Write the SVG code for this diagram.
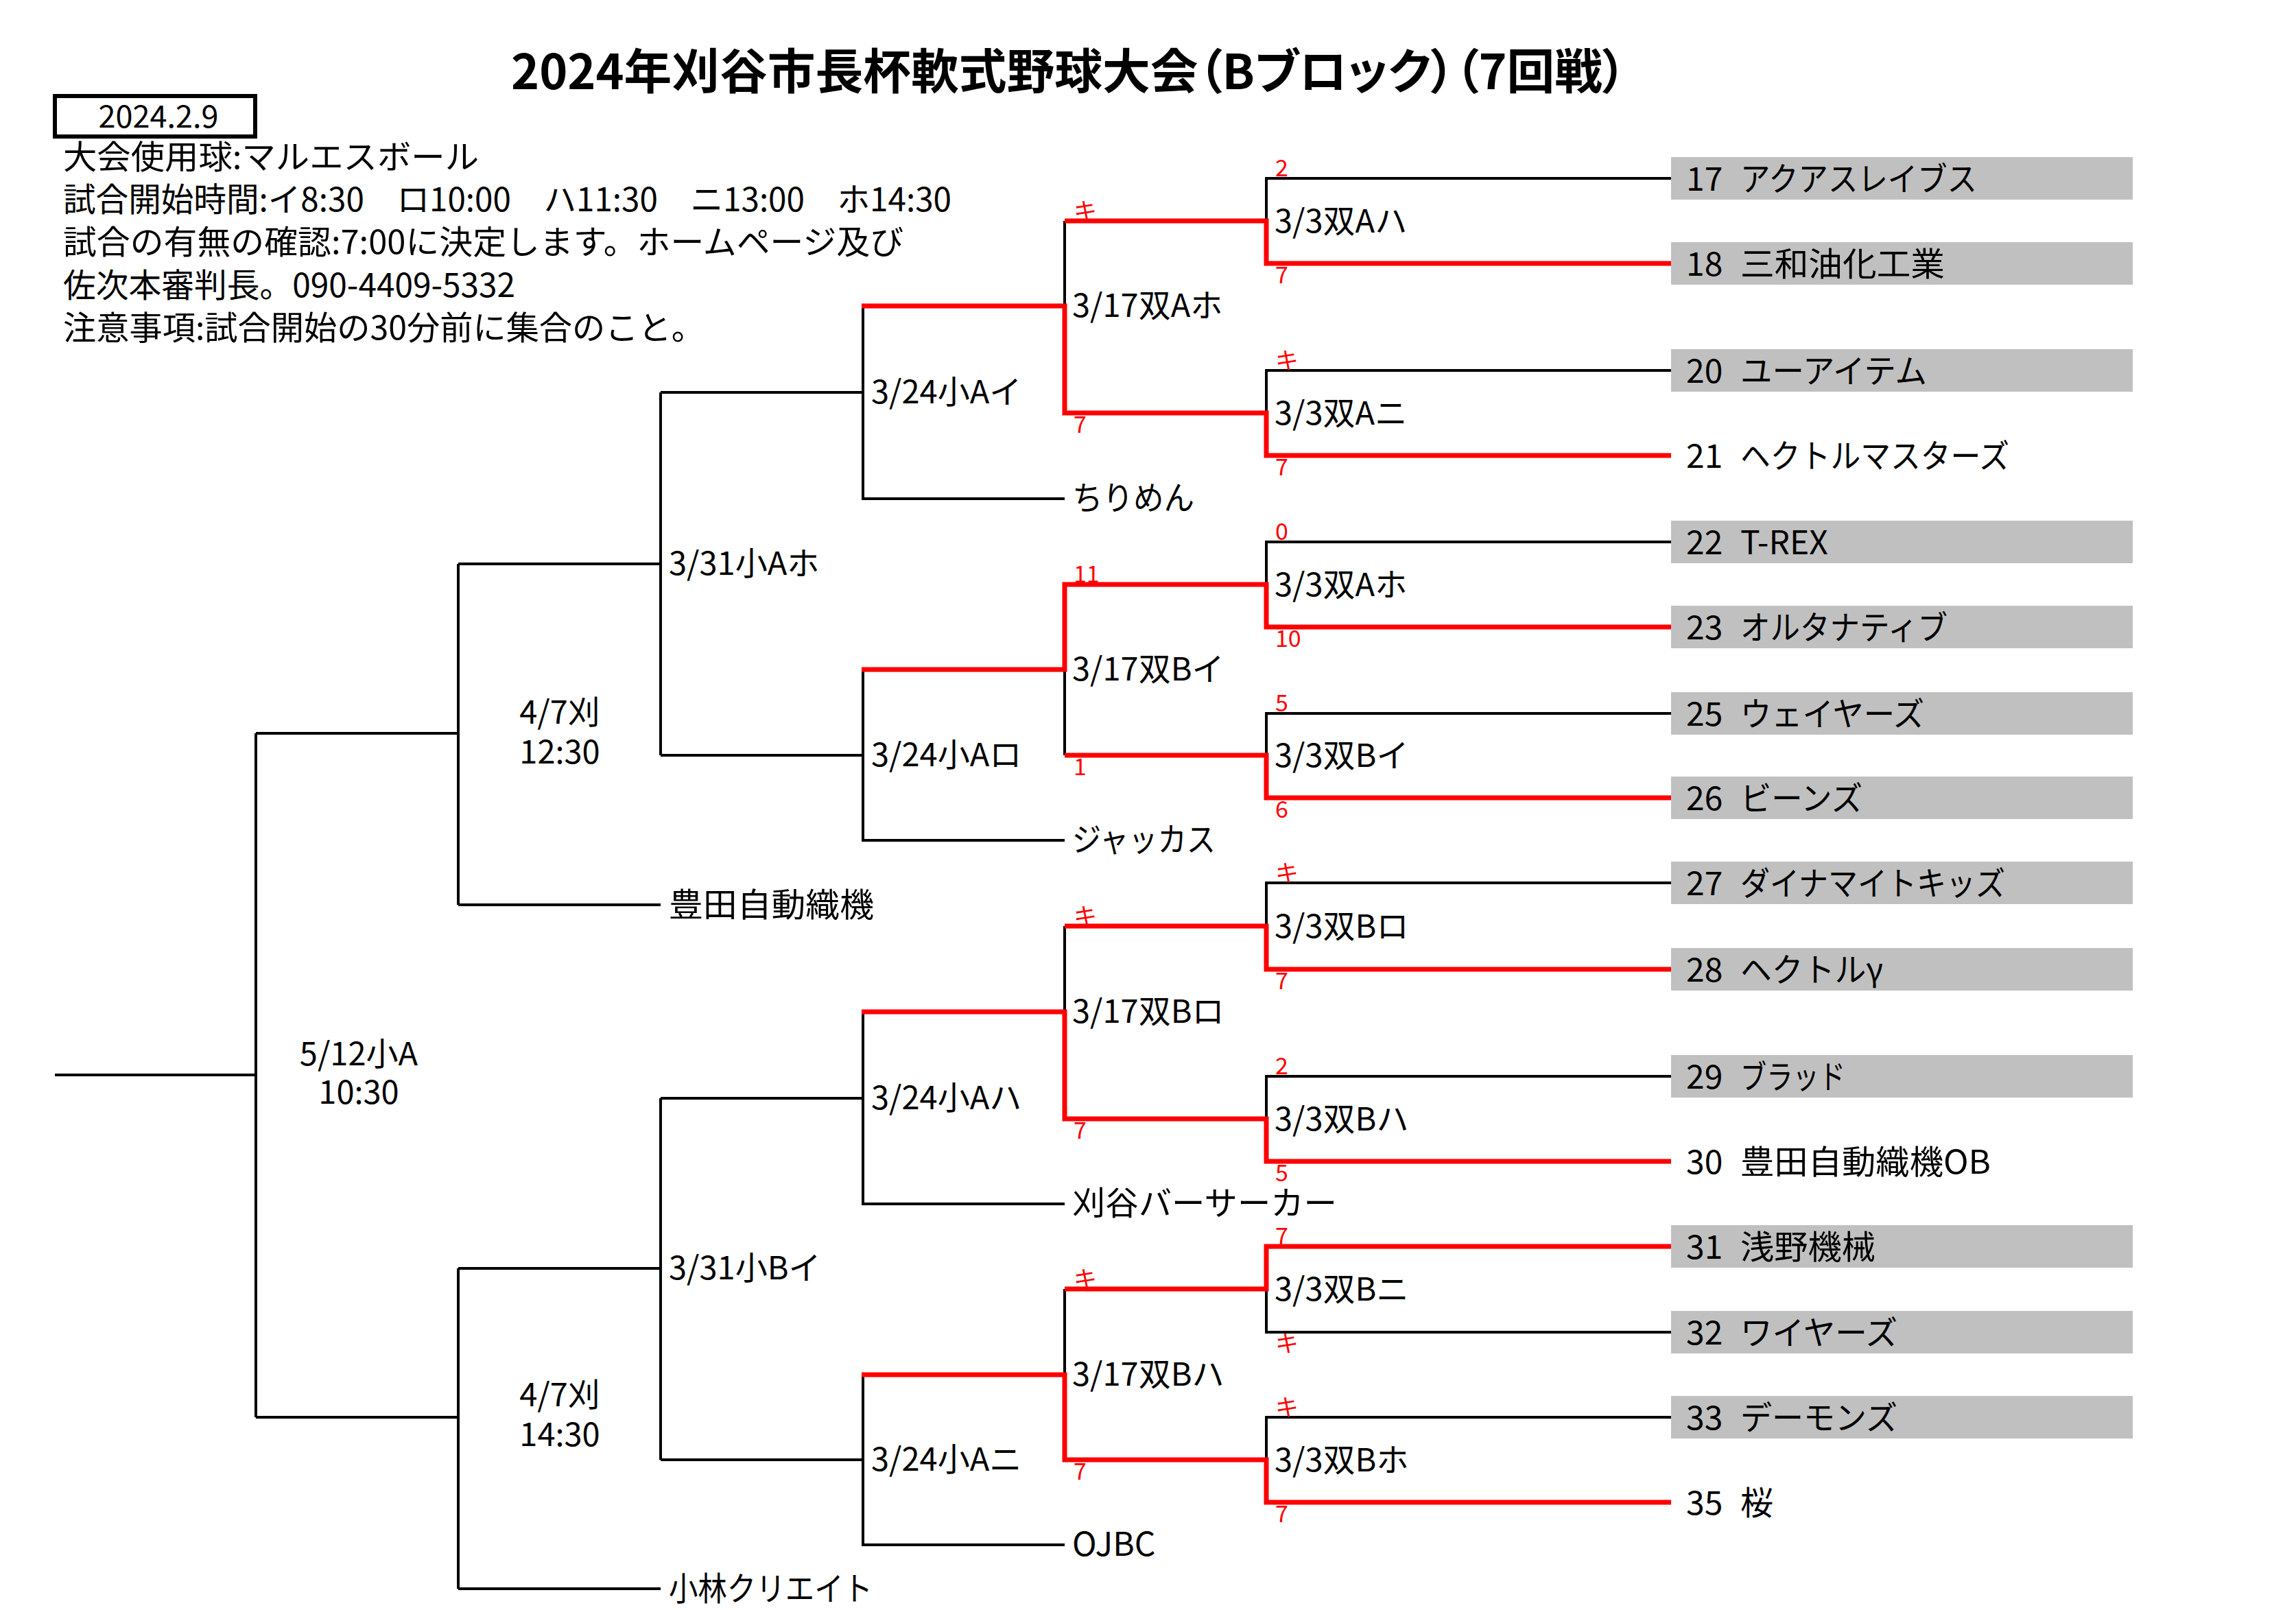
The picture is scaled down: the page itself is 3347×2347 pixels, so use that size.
<svg xmlns="http://www.w3.org/2000/svg" width="3347" height="2347" viewBox="0 0 3347 2347">
<style>
text{font-family:"Noto Sans CJK JP","Noto Sans",sans-serif;fill:#000}
.title{font-size:70px;font-weight:bold;font-feature-settings:"palt"}
.info{font-size:48px}
.lbl{font-size:47px}
.team{font-size:48px}
.sc{font-size:34px;fill:#f00}
.mid{text-anchor:middle}
.bk{fill:none;stroke:#000;stroke-width:4;stroke-linejoin:miter}
.rd{fill:none;stroke:#f00;stroke-width:7;stroke-linejoin:miter}
.box{fill:#c0c0c0}
</style>
<rect width="3347" height="2347" fill="#fff"/>

<g id="header">
<text class="title" x="745" y="130" textLength="1626" lengthAdjust="spacingAndGlyphs">2024年刈谷市長杯軟式野球大会（Bブロック）（7回戦）</text>
<rect x="80" y="140" width="292" height="59" fill="none" stroke="#000" stroke-width="6"/>
<text x="231" y="186" font-size="45" class="mid">2024.2.9</text>
<text class="info" x="92" y="246" textLength="606" lengthAdjust="spacingAndGlyphs">大会使用球:マルエスボール</text>
<text class="info" x="92" y="308" textLength="1295" lengthAdjust="spacingAndGlyphs">試合開始時間:イ8:30　ロ10:00　ハ11:30　ニ13:00　ホ14:30</text>
<text class="info" x="92" y="370" textLength="1225" lengthAdjust="spacingAndGlyphs">試合の有無の確認:7:00に決定します。ホームページ及び</text>
<text class="info" x="92" y="433" textLength="659" lengthAdjust="spacingAndGlyphs">佐次本審判長。090-4409-5332</text>
<text class="info" x="92" y="495" textLength="935" lengthAdjust="spacingAndGlyphs">注意事項:試合開始の30分前に集合のこと。</text>
</g>

<g id="connectors">
<path class="bk" d="M2436,260H1846V322 M2436,540H1846V602 M2436,790H1846V852 M2436,1040H1846V1101 M2436,1287H1846V1350 M2436,1569H1846V1631 M2436,1942H1846V1879 M2436,2066H1846V2128"/>
<path class="bk" d="M1552,322V446 M1552,976V1101 M1552,1350V1475 M1552,1879V2004"/>
<path class="bk" d="M1552,727H1258V446 M1552,1225H1258V976 M1552,1755H1258V1475 M1552,2252H1258V2004"/>
<path class="bk" d="M1258,572H963 M1258,1101H963 M963,572V1101 M1258,1601H963 M1258,2128H963 M963,1601V2128"/>
<path class="bk" d="M963,822H668 M963,1319H668 M668,822V1319 M963,1849H668 M963,2316H668 M668,1849V2316"/>
<path class="bk" d="M668,1069H373 M668,2066H373 M373,1069V2066 M373,1567H80"/>
<path class="rd" d="M2436,384H1846V322H1552"/>
<path class="rd" d="M2436,664H1846V602H1552V446H1256"/>
<path class="rd" d="M2436,914H1846V852H1552V976H1256"/>
<path class="rd" d="M2436,1163H1846V1101H1552"/>
<path class="rd" d="M2436,1413H1846V1350H1552"/>
<path class="rd" d="M2436,1693H1846V1631H1552V1475H1256"/>
<path class="rd" d="M2436,1817H1846V1879H1552"/>
<path class="rd" d="M2436,2190H1846V2128H1552V2004H1256"/>
</g>

<g id="scores">
<text class="sc" x="1859" y="257">2</text>
<text class="sc" x="1859" y="413">7</text>
<text class="sc" x="1859" y="538">キ</text>
<text class="sc" x="1859" y="693">7</text>
<text class="sc" x="1859" y="787">0</text>
<text class="sc" x="1859" y="943">10</text>
<text class="sc" x="1859" y="1037">5</text>
<text class="sc" x="1859" y="1192">6</text>
<text class="sc" x="1859" y="1285">キ</text>
<text class="sc" x="1859" y="1442">7</text>
<text class="sc" x="1859" y="1566">2</text>
<text class="sc" x="1859" y="1722">5</text>
<text class="sc" x="1859" y="1814">7</text>
<text class="sc" x="1859" y="1971">キ</text>
<text class="sc" x="1859" y="2064">キ</text>
<text class="sc" x="1859" y="2219">7</text>
<text class="sc" x="1565" y="320">キ</text>
<text class="sc" x="1565" y="631">7</text>
<text class="sc" x="1565" y="849">11</text>
<text class="sc" x="1565" y="1130">1</text>
<text class="sc" x="1565" y="1348">キ</text>
<text class="sc" x="1565" y="1660">7</text>
<text class="sc" x="1565" y="1877">キ</text>
<text class="sc" x="1565" y="2157">7</text>
</g>

<g id="match-r1">
<text class="lbl" x="1858" y="339">3/3双Aハ</text>
<text class="lbl" x="1858" y="619">3/3双Aニ</text>
<text class="lbl" x="1858" y="869">3/3双Aホ</text>
<text class="lbl" x="1858" y="1118">3/3双Bイ</text>
<text class="lbl" x="1858" y="1367">3/3双Bロ</text>
<text class="lbl" x="1858" y="1648">3/3双Bハ</text>
<text class="lbl" x="1858" y="1896">3/3双Bニ</text>
<text class="lbl" x="1858" y="2145">3/3双Bホ</text>
</g>
<g id="match-r2">
<text class="lbl" x="1563" y="462">3/17双Aホ</text>
<text class="lbl" x="1563" y="992">3/17双Bイ</text>
<text class="lbl" x="1563" y="1491">3/17双Bロ</text>
<text class="lbl" x="1563" y="2020">3/17双Bハ</text>
</g>
<g id="match-r3">
<text class="lbl" x="1270" y="588">3/24小Aイ</text>
<text class="lbl" x="1270" y="1117">3/24小Aロ</text>
<text class="lbl" x="1270" y="1617">3/24小Aハ</text>
<text class="lbl" x="1270" y="2144">3/24小Aニ</text>
</g>
<g id="match-r4">
<text class="lbl" x="975" y="838">3/31小Aホ</text>
<text class="lbl" x="975" y="1865">3/31小Bイ</text>
</g>
<g id="match-r5">
<text class="lbl mid" x="816" y="1055">4/7刈</text>
<text class="lbl mid" x="816" y="1113">12:30</text>
<text class="lbl mid" x="816" y="2050">4/7刈</text>
<text class="lbl mid" x="816" y="2108">14:30</text>
</g>
<g id="match-final">
<text class="lbl mid" x="523" y="1553">5/12小A</text>
<text class="lbl mid" x="523" y="1609">10:30</text>
</g>

<g id="seeds">
<text class="team" x="1563" y="743" textLength="178" lengthAdjust="spacingAndGlyphs">ちりめん</text>
<text class="team" x="1563" y="1241" textLength="209" lengthAdjust="spacingAndGlyphs">ジャッカス</text>
<text class="team" x="1563" y="1771" textLength="386" lengthAdjust="spacingAndGlyphs">刈谷バーサーカー</text>
<text class="team" x="1563" y="2268">OJBC</text>
<text class="team" x="975" y="1336" textLength="299" lengthAdjust="spacingAndGlyphs">豊田自動織機</text>
<text class="team" x="975" y="2333" textLength="297" lengthAdjust="spacingAndGlyphs">小林クリエイト</text>
</g>

<g id="team-17"><rect class="box" x="2436" y="229" width="673" height="62"/><text class="team" x="2458" y="278">17</text><text class="team" x="2537" y="278" textLength="345" lengthAdjust="spacingAndGlyphs">アクアスレイブス</text></g>
<g id="team-18"><rect class="box" x="2436" y="353" width="673" height="62"/><text class="team" x="2458" y="402">18</text><text class="team" x="2537" y="402" textLength="298" lengthAdjust="spacingAndGlyphs">三和油化工業</text></g>
<g id="team-20"><rect class="box" x="2436" y="509" width="673" height="62"/><text class="team" x="2458" y="558">20</text><text class="team" x="2537" y="558" textLength="272" lengthAdjust="spacingAndGlyphs">ユーアイテム</text></g>
<g id="team-21"><text class="team" x="2458" y="682">21</text><text class="team" x="2537" y="682" textLength="392" lengthAdjust="spacingAndGlyphs">ヘクトルマスターズ</text></g>
<g id="team-22"><rect class="box" x="2436" y="759" width="673" height="62"/><text class="team" x="2458" y="808">22</text><text class="team" x="2537" y="808">T-REX</text></g>
<g id="team-23"><rect class="box" x="2436" y="883" width="673" height="62"/><text class="team" x="2458" y="932">23</text><text class="team" x="2537" y="932" textLength="302" lengthAdjust="spacingAndGlyphs">オルタナティブ</text></g>
<g id="team-25"><rect class="box" x="2436" y="1009" width="673" height="62"/><text class="team" x="2458" y="1058">25</text><text class="team" x="2537" y="1058" textLength="268" lengthAdjust="spacingAndGlyphs">ウェイヤーズ</text></g>
<g id="team-26"><rect class="box" x="2436" y="1132" width="673" height="62"/><text class="team" x="2458" y="1181">26</text><text class="team" x="2537" y="1181" textLength="178" lengthAdjust="spacingAndGlyphs">ビーンズ</text></g>
<g id="team-27"><rect class="box" x="2436" y="1256" width="673" height="62"/><text class="team" x="2458" y="1305">27</text><text class="team" x="2537" y="1305" textLength="386" lengthAdjust="spacingAndGlyphs">ダイナマイトキッズ</text></g>
<g id="team-28"><rect class="box" x="2436" y="1382" width="673" height="62"/><text class="team" x="2458" y="1431">28</text><text class="team" x="2537" y="1431" textLength="208" lengthAdjust="spacingAndGlyphs">ヘクトルγ</text></g>
<g id="team-29"><rect class="box" x="2436" y="1538" width="673" height="62"/><text class="team" x="2458" y="1587">29</text><text class="team" x="2537" y="1587" textLength="153" lengthAdjust="spacingAndGlyphs">ブラッド</text></g>
<g id="team-30"><text class="team" x="2458" y="1711">30</text><text class="team" x="2537" y="1711" textLength="365" lengthAdjust="spacingAndGlyphs">豊田自動織機OB</text></g>
<g id="team-31"><rect class="box" x="2436" y="1786" width="673" height="62"/><text class="team" x="2458" y="1835">31</text><text class="team" x="2537" y="1835" textLength="197" lengthAdjust="spacingAndGlyphs">浅野機械</text></g>
<g id="team-32"><rect class="box" x="2436" y="1911" width="673" height="62"/><text class="team" x="2458" y="1960">32</text><text class="team" x="2537" y="1960" textLength="229" lengthAdjust="spacingAndGlyphs">ワイヤーズ</text></g>
<g id="team-33"><rect class="box" x="2436" y="2035" width="673" height="62"/><text class="team" x="2458" y="2084">33</text><text class="team" x="2537" y="2084" textLength="229" lengthAdjust="spacingAndGlyphs">デーモンズ</text></g>
<g id="team-35"><text class="team" x="2458" y="2208">35</text><text class="team" x="2537" y="2208">桜</text></g>
</svg>
